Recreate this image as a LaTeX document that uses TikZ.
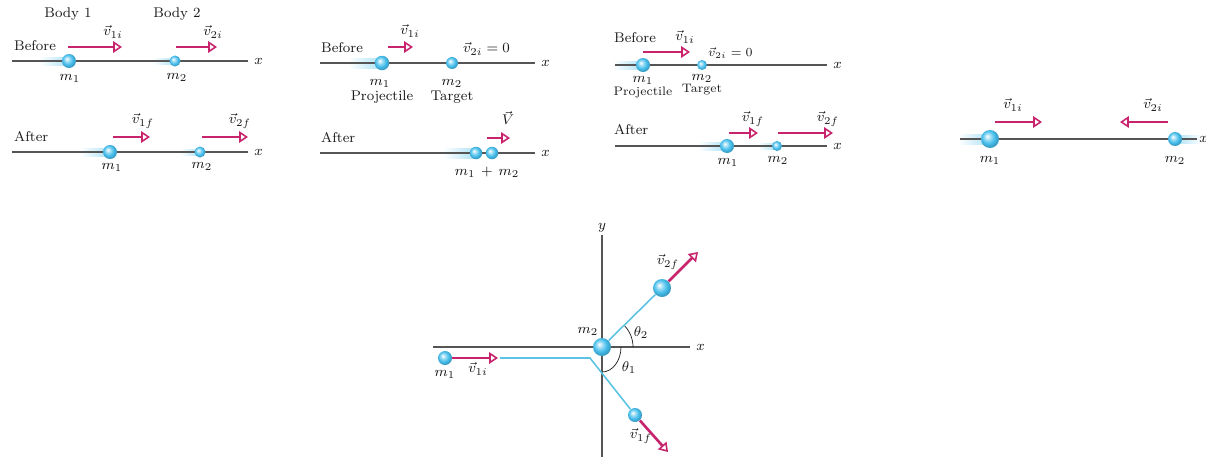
\documentclass[tikz,border=0pt]{standalone}
\usepackage{amsmath, amssymb}
\usepackage{xcolor}
\usetikzlibrary{arrows.meta}
\definecolor{ball-blue}{HTML}{45BDEB}
\definecolor{vel-pink}{HTML}{C8246E}
\definecolor{track-cyan}{HTML}{5CC3E4}
\definecolor{jet}{HTML}{1A1A1A}
\definecolor{axis-gray}{HTML}{555555}
\pgfdeclareradialshading{lightball}{\pgfqpoint{-8bp}{8bp}}{color(0bp)=(white); color(9bp)=(ball-blue!55!white); color(18bp)=(ball-blue); color(25bp)=(ball-blue!85!black); color(50bp)=(ball-blue!60!black)}

\begin{document}
\begin{tikzpicture}[x=0.02cm, y=-0.02cm,
    every node/.style={font=\footnotesize, color=jet},
    ball/.style={circle, shading=lightball, inner sep=0pt, minimum size=#1},
    vel/.style={line width=1.5pt, color=vel-pink, -{Triangle[fill=white, length=5pt, width=6.5pt, line width=0.9pt]}},
    axis/.style={line width=0.6pt, color=axis-gray},
    trail/.style={left color=white, right color=ball-blue!45},
    trailr/.style={left color=ball-blue!45, right color=white},
    track/.style={line width=0.9pt, color=track-cyan}]
    \useasboundingbox (0,0) rectangle (1206,457);

    % motion trails (under the axes)
    \shade[trail] (40,57) rectangle (69,65);
    \shade[trail] (153,58) rectangle (175,64);
    \shade[trail] (80,148) rectangle (110,156);
    \shade[trail] (180,149) rectangle (200,155);
    \shade[trail] (348,58) rectangle (382,68);
    \shade[trail] (443,148) rectangle (476,158);
    \shade[trail] (613,61) rectangle (643,69);
    \shade[trail] (698,142) rectangle (727,150);
    \shade[trail] (758,143) rectangle (777,149);
    \shade[trail] (958,134) rectangle (990,144);
    \shade[trailr] (1175,135) rectangle (1202,143);

    % panel 1
    \node (body1) at (68,14) {Body 1};
    \node (body2) at (177,14) {Body 2};
    \node[anchor=west] (before1) at (8,46) {Before};
    \node[anchor=west] (after1) at (8,137) {After};
    \coordinate (p1a) at (12,61); \coordinate (p1b) at (248,61);
    \coordinate (p1c) at (12,152); \coordinate (p1d) at (248,152);
    \draw[axis] (p1a) -- (p1b) node[right] (p1x) {$x$};
    \draw[axis] (p1c) -- (p1d) node[right] (p1y) {$x$};
    \node[ball=0.28cm] (p1m1) at (69,61) {};
    \node[ball=0.22cm] (p1m2) at (175,61) {};
    \node[ball=0.28cm] (p1m1f) at (110,152) {};
    \node[ball=0.22cm] (p1m2f) at (200,152) {};
    \node (p1l1) at (70,78) {$m_1$};
    \node (p1l2) at (177,77) {$m_2$};
    \node (p1l3) at (112,167) {$m_1$};
    \node (p1l4) at (202,166) {$m_2$};
    \coordinate (p1v1) at (68,47); \coordinate (p1v2) at (122,47);
    \coordinate (p1v3) at (176,47); \coordinate (p1v4) at (217,47);
    \coordinate (p1v5) at (113,137); \coordinate (p1v6) at (150,137);
    \coordinate (p1v7) at (202,137); \coordinate (p1v8) at (248,137);
    \draw[vel] (p1v1) -- (p1v2);
    \draw[vel] (p1v3) -- (p1v4);
    \draw[vel] (p1v5) -- (p1v6);
    \draw[vel] (p1v7) -- (p1v8);
    \node (p1t1) at (113,32) {$\vec{v}_{1i}$};
    \node (p1t2) at (213,32) {$\vec{v}_{2i}$};
    \node (p1t3) at (143,121) {$\vec{v}_{1f}$};
    \node (p1t4) at (240,121) {$\vec{v}_{2f}$};

    % panel 2
    \node[anchor=west] (before2) at (315,48) {Before};
    \node[anchor=west] (after2) at (315,138) {After};
    \coordinate (p2a) at (320,63); \coordinate (p2b) at (535,63);
    \coordinate (p2c) at (320,153); \coordinate (p2d) at (535,153);
    \draw[axis] (p2a) -- (p2b) node[right] (p2x) {$x$};
    \draw[axis] (p2c) -- (p2d) node[right] (p2y) {$x$};
    \node[ball=0.29cm] (p2m1) at (382,63) {};
    \node[ball=0.24cm] (p2m2) at (452,63) {};
    \node[ball=0.25cm] (p2m1f) at (476,153) {};
    \node[ball=0.25cm] (p2m2f) at (492,153) {};
    \node (p2l1) at (380,83) {$m_1$};
    \node (p2l2) at (452,83) {$m_2$};
    \node (p2proj) at (382,97) {Projectile};
    \node (p2targ) at (452,97) {Target};
    \node (p2l3) at (487,172) {$m_1\,+\,m_2$};
    \coordinate (p2v1) at (388,47); \coordinate (p2v2) at (413,47);
    \coordinate (p2v3) at (487,138); \coordinate (p2v4) at (510,138);
    \draw[vel] (p2v1) -- (p2v2);
    \draw[vel] (p2v3) -- (p2v4);
    \node (p2t1) at (410,31) {$\vec{v}_{1i}$};
    \node[anchor=west] (p2t2) at (457,49) {$\vec{v}_{2i}=0$};
    \node[inner sep=1pt] (p2t3) at (508,118) {$\vec{V}$};

    % panel 3
    \node[anchor=west] (before3) at (608,38) {Before};
    \node[anchor=west] (after3) at (608,130) {After};
    \coordinate (p3a) at (615,65); \coordinate (p3b) at (827,65);
    \coordinate (p3c) at (615,146); \coordinate (p3d) at (827,146);
    \draw[axis] (p3a) -- (p3b) node[right] (p3x) {$x$};
    \draw[axis] (p3c) -- (p3d) node[right] (p3y) {$x$};
    \node[ball=0.28cm] (p3m1) at (643,65) {};
    \node[ball=0.2cm] (p3m2) at (702,65) {};
    \node[ball=0.28cm] (p3m1f) at (727,146) {};
    \node[ball=0.2cm] (p3m2f) at (777,146) {};
    \node (p3l1) at (643,80) {$m_1$};
    \node (p3l2) at (702,78) {$m_2$};
    \node[font=\scriptsize] (p3proj) at (643,92) {Projectile};
    \node[font=\scriptsize] (p3targ) at (702,90) {Target};
    \node (p3l3) at (728,162) {$m_1$};
    \node (p3l4) at (778,160) {$m_2$};
    \coordinate (p3v1) at (643,52); \coordinate (p3v2) at (690,52);
    \coordinate (p3v3) at (729,133); \coordinate (p3v4) at (758,133);
    \coordinate (p3v5) at (778,133); \coordinate (p3v6) at (833,133);
    \draw[vel] (p3v1) -- (p3v2);
    \draw[vel] (p3v3) -- (p3v4);
    \draw[vel] (p3v5) -- (p3v6);
    \node (p3t1) at (685,37) {$\vec{v}_{1i}$};
    \node[anchor=west, font=\scriptsize] (p3t2) at (702,53) {$\vec{v}_{2i}=0$};
    \node (p3t3) at (753,119) {$\vec{v}_{1f}$};
    \node (p3t4) at (828,119) {$\vec{v}_{2f}$};

    % panel 4
    \coordinate (p4a) at (960,139); \coordinate (p4b) at (1197,139);
    \draw[axis] (p4a) -- (p4b) node[right, inner sep=1pt] (p4x) {$x$};
    \node[ball=0.36cm] (p4m1) at (990,139) {};
    \node[ball=0.28cm] (p4m2) at (1175,139) {};
    \node (p4l1) at (990,160) {$m_1$};
    \node (p4l2) at (1175,160) {$m_2$};
    \coordinate (p4v1) at (995,122); \coordinate (p4v2) at (1042,122);
    \coordinate (p4v3) at (1168,122); \coordinate (p4v4) at (1120,122);
    \draw[vel] (p4v1) -- (p4v2);
    \draw[vel] (p4v3) -- (p4v4);
    \node (p4t1) at (1013,105) {$\vec{v}_{1i}$};
    \node (p4t2) at (1153,105) {$\vec{v}_{2i}$};

    % panel 5: glancing collision
    \coordinate (p5ya) at (602,457); \coordinate (p5yb) at (602,235);
    \coordinate (p5xa) at (433,347); \coordinate (p5xb) at (690,347);
    \draw[axis] (p5ya) -- (p5yb) node[above, inner sep=1pt] (p5y) {$y$};
    \draw[axis] (p5xa) -- (p5xb) node[right] (p5x) {$x$};
    \draw[thin, color=jet] (633,347) arc[start angle=0, end angle=-44, radius=31];
    \draw[thin, color=jet] (621,347) arc[start angle=0, end angle=90, x radius=19, y radius=25];
    \node (p5th2) at (641,333) {$\theta_2$};
    \node (p5th1) at (629,368) {$\theta_1$};
    \node[ball=0.36cm] (p5m2) at (602,347) {};
    \node[ball=0.28cm] (p5m1) at (445,358) {};
    \node[ball=0.28cm] (p5m1f) at (635,415) {};
    \node[ball=0.36cm] (p5m2f) at (662,288) {};
    \coordinate (p5k1) at (500,358); \coordinate (p5k2) at (590,358);
    \draw[track] (p5k1) -- (p5k2) -- (p5m1f);
    \draw[track] (p5m2) -- (p5m2f);
    \node (p5l2) at (588,331) {$m_2$};
    \node (p5l1) at (445,374) {$m_1$};
    \coordinate (p5v1) at (498,358); \coordinate (p5v2) at (668,452);
    \coordinate (p5v3) at (698,252);
    \draw[vel] (p5m1) -- (p5v1);
    \draw[vel] (p5m1f) -- (p5v2);
    \draw[vel] (p5m2f) -- (p5v3);
    \node (p5t1) at (478,369) {$\vec{v}_{1i}$};
    \node (p5t2) at (641,436) {$\vec{v}_{1f}$};
    \node (p5t3) at (668,262) {$\vec{v}_{2f}$};
  \end{tikzpicture}
\end{document}
